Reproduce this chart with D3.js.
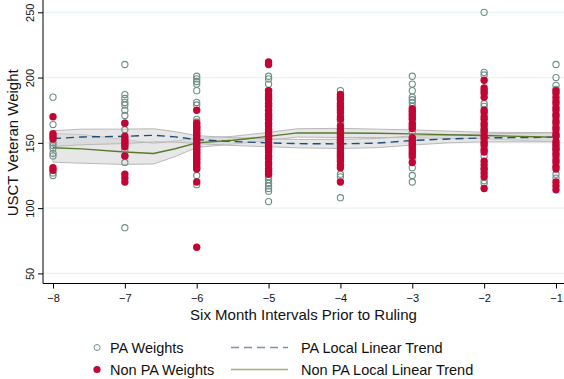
<!DOCTYPE html>
<html>
<head>
<meta charset="utf-8">
<script src="https://cdn.jsdelivr.net/npm/d3@7"></script>
<style>
  html, body { margin: 0; padding: 0; background: #fff; }
  svg { display: block; font-family: "Liberation Sans", Arial, sans-serif; }
</style>
</head>
<body>
<svg id="chart" width="564" height="379"></svg>
<script>
// six-month periods before the ruling
const periods = [-8, -7, -6, -5, -4, -3, -2, -1];
const yTicks = [50, 100, 150, 200, 250];

// weights per period
const paWeights = [
  [185, 164, 150, 148, 146, 142, 140, 127, 125],
  [210, 187, 184, 181, 179, 175, 171, 165, 160, 150, 145, 140, 135, 85],
  [201, 199, 197, 195, 190, 181, 179, 168, 166, 160, 155, 150, 145, 140, 135, 125, 118],
  [201, 199, 195, 190, 180, 170, 160, 150, 140, 130, 124, 122, 119, 117, 115, 113, 105],
  [190, 175, 166, 150, 140, 126, 124, 108],
  [201, 195, 190, 185, 183, 181, 178, 158, 150, 138, 131, 125, 120],
  [250, 204, 202, 180, 178, 160, 150, 140, 130, 121, 119],
  [210, 200, 194, 191, 155, 145, 126, 123],
];
const nonPaWeights = [
  [170, 157, 155, 153, 131, 129],
  [165, 155, 153, 151, 149, 147, 140, 126, 123, 120],
  [175, 165, 163, 162, 160, 158, 157, 155, 153, 152, 150, 148, 147, 145, 143, 142, 140, 138, 137, 135, 133, 131, 130, 120, 70],
  [212, 210, 190, 187, 185, 183, 180, 178, 175, 172, 170, 168, 165, 163, 160, 158, 156, 155, 153, 150, 148, 146, 145, 143, 140, 138, 135, 133, 130, 128, 126],
  [187, 185, 183, 180, 178, 176, 173, 170, 168, 163, 160, 158, 156, 154, 152, 150, 148, 146, 144, 142, 140, 138, 136, 133, 131, 120],
  [176, 174, 172, 170, 168, 165, 163, 161, 154, 152, 150, 148, 146, 144, 142, 140, 135],
  [198, 192, 190, 188, 185, 175, 173, 170, 168, 165, 163, 160, 158, 155, 153, 150, 148, 145, 143, 136, 133, 130, 127, 124, 115],
  [190, 188, 185, 182, 180, 177, 175, 172, 170, 167, 165, 162, 160, 157, 155, 151, 149, 147, 145, 142, 140, 137, 135, 132, 130, 120, 117, 114],
];

// local linear trends and their band half-widths
const trendX     = [-8, -7.6, -7, -6.6, -6.3, -6, -5.5, -5, -4.6, -4, -3.5, -3, -2.5, -2, -1];
const paTrend    = [153.3, 154.5, 155, 155.8, 154.6, 152.5, 151, 150, 149.4, 149.2, 149.8, 151.8, 153, 153.8, 154.3];
const paBand     = [6, 6, 5.5, 5, 4, 3, 3, 3, 3.2, 3.5, 3.5, 3.5, 3, 3, 3.5];
const nonPaTrend = [146.2, 145.4, 143, 141.8, 145.5, 150, 152, 155, 157.6, 157.6, 157.3, 156.9, 156.2, 155.6, 154.3];
const nonPaBand  = [11, 11, 9.5, 8, 6, 3.5, 3, 3, 3.2, 3.5, 3.2, 3, 2.8, 2.5, 3.5];

const svg = d3.select('#chart');
const left = 43, right = 564, axisY = 283.5;

const x = d3.scaleLinear().domain([-8, -1]).range([53, 556]);
const y = d3.scaleLinear().domain([50, 250]).range([273.4, 12.3]);

// grid
svg.append('g')
  .selectAll('line')
  .data(yTicks)
  .join('line')
  .attr('x1', left).attr('x2', right)
  .attr('y1', d => y(d)).attr('y2', d => y(d))
  .attr('stroke', '#eaf2f3')
  .attr('stroke-width', 1.2);

// confidence bands
const band = (trend, half) => {
  const pts = trendX.map((t, i) => ({ t, lo: trend[i] - half[i], hi: trend[i] + half[i] }));
  return d3.area().x(d => x(d.t)).y0(d => y(d.lo)).y1(d => y(d.hi))(pts);
};
[[nonPaTrend, nonPaBand], [paTrend, paBand]].forEach(([tr, hw]) => {
  svg.append('path')
    .attr('d', band(tr, hw))
    .attr('fill', '#d4d4d4')
    .attr('fill-opacity', 0.55)
    .attr('stroke', '#b9b9b9')
    .attr('stroke-width', 1);
});

const line = d3.line().x(d => x(d[0])).y(d => y(d[1]));
svg.append('path')
  .attr('d', line(trendX.map((t, i) => [t, paTrend[i]])))
  .attr('fill', 'none')
  .attr('stroke', '#1f4d78')
  .attr('stroke-width', 1.4)
  .attr('stroke-dasharray', '8,5');
svg.append('path')
  .attr('d', line(trendX.map((t, i) => [t, nonPaTrend[i]])))
  .attr('fill', 'none')
  .attr('stroke', '#587a2c')
  .attr('stroke-width', 1.4);

// scatter
const paPts = periods.flatMap((p, i) => paWeights[i].map(v => [p, v]));
const nonPts = periods.flatMap((p, i) => nonPaWeights[i].map(v => [p, v]));

svg.append('g')
  .selectAll('circle')
  .data(paPts)
  .join('circle')
  .attr('cx', d => x(d[0]))
  .attr('cy', d => y(d[1]))
  .attr('r', 3.1)
  .attr('fill', 'none')
  .attr('stroke', '#6e8f86')
  .attr('stroke-width', 1.1);

svg.append('g')
  .selectAll('circle')
  .data(nonPts)
  .join('circle')
  .attr('cx', d => x(d[0]))
  .attr('cy', d => y(d[1]))
  .attr('r', 3.7)
  .attr('fill', '#c10534');

// axes
const yAxis = svg.append('g')
  .attr('transform', `translate(${left},0)`)
  .call(d3.axisLeft(y).tickValues(yTicks).tickSize(5).tickSizeOuter(0));
yAxis.select('.domain').remove();
yAxis.selectAll('.tick line').attr('stroke', '#000');
yAxis.selectAll('.tick text')
  .attr('transform', 'rotate(-90)')
  .attr('x', 0).attr('y', -9).attr('dy', 0)
  .attr('text-anchor', 'middle')
  .attr('font-size', 11)
  .attr('fill', '#111');
svg.append('line')
  .attr('x1', left).attr('x2', left)
  .attr('y1', 0).attr('y2', axisY)
  .attr('stroke', '#000');

const xAxis = svg.append('g')
  .attr('transform', `translate(0,${axisY})`)
  .call(d3.axisBottom(x).tickValues(periods).tickFormat(d3.format('d')).tickSize(5).tickSizeOuter(0));
xAxis.select('.domain').remove();
xAxis.selectAll('.tick line').attr('stroke', '#000');
xAxis.selectAll('.tick text')
  .attr('y', 11).attr('dy', '0.71em')
  .attr('font-size', 11)
  .attr('fill', '#111');
svg.append('line')
  .attr('x1', left).attr('x2', right)
  .attr('y1', axisY).attr('y2', axisY)
  .attr('stroke', '#000');

// titles
svg.append('text')
  .attr('x', (left + right) / 2).attr('y', 320)
  .attr('text-anchor', 'middle')
  .attr('font-size', 15)
  .attr('fill', '#111')
  .text('Six Month Intervals Prior to Ruling');

svg.append('text')
  .attr('transform', `translate(18,${y(150)}) rotate(-90)`)
  .attr('text-anchor', 'middle')
  .attr('font-size', 15)
  .attr('fill', '#111')
  .text('USCT Veteran Weight');

// legend
const lg = svg.append('g').attr('font-size', 14.5).attr('fill', '#111');
lg.append('circle').attr('cx', 97).attr('cy', 347.5).attr('r', 3)
  .attr('fill', 'none').attr('stroke', '#6e8f86').attr('stroke-width', 1);
lg.append('text').attr('x', 110).attr('y', 353).text('PA Weights');
lg.append('circle').attr('cx', 97).attr('cy', 369.5).attr('r', 3.6).attr('fill', '#c10534');
lg.append('text').attr('x', 110).attr('y', 375).text('Non PA Weights');

lg.append('line').attr('x1', 231).attr('x2', 288).attr('y1', 347.5).attr('y2', 347.5)
  .attr('stroke', '#7b93ab').attr('stroke-width', 1.5).attr('stroke-dasharray', '8,5');
lg.append('text').attr('x', 301).attr('y', 353).text('PA Local Linear Trend');
lg.append('line').attr('x1', 231).attr('x2', 288).attr('y1', 369.5).attr('y2', 369.5)
  .attr('stroke', '#9bb07e').attr('stroke-width', 1.5);
lg.append('text').attr('x', 301).attr('y', 375).text('Non PA Local Linear Trend');
</script>
</body>
</html>
